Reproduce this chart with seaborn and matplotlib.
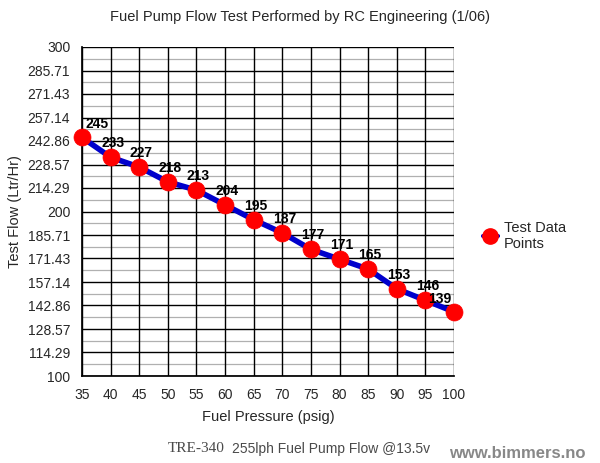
import matplotlib
matplotlib.use("Agg")
import matplotlib.pyplot as plt
import seaborn as sns
import pandas as pd
import numpy as np
from matplotlib.lines import Line2D

pressure = [35, 40, 45, 50, 55, 60, 65, 70, 75, 80, 85, 90, 95, 100]
flow = [245, 233, 227, 218, 213, 204, 195, 187, 177, 171, 165, 153, 146, 139]
y_ticks = [100, 114.29, 128.57, 142.86, 157.14, 171.43, 185.71, 200,
           214.29, 228.57, 242.86, 257.14, 271.43, 285.71, 300]
y_tick_labels = ["100", "114.29", "128.57", "142.86", "157.14", "171.43", "185.71", "200",
                 "214.29", "228.57", "242.86", "257.14", "271.43", "285.71", "300"]
x_ticks = pressure

sns.set_theme(style="white")
plt.rcParams['font.family'] = ['Liberation Sans', 'DejaVu Sans']

df = pd.DataFrame({"Fuel Pressure (psig)": pressure, "Test Flow (Ltr/Hr)": flow})

fig = plt.figure(figsize=(6.0, 4.63), dpi=100)
ax = fig.add_axes([82/600, 1 - 376/463, (454-82)/600, (376-47)/463])

minor_y = [(y_ticks[i] + y_ticks[i+1]) / 2 for i in range(len(y_ticks) - 1)]
for yv in minor_y:
    ax.axhline(yv, color="#b0b0b0", lw=0.9, zorder=0)
for yv in y_ticks:
    ax.axhline(yv, color="black", lw=1.0, zorder=0.5)
for xv in x_ticks:
    ax.axvline(xv, color="black", lw=1.0, zorder=0.5)

sns.lineplot(data=df, x="Fuel Pressure (psig)", y="Test Flow (Ltr/Hr)", ax=ax,
             color="#0000cc", lw=4, zorder=2, legend=False)
sns.scatterplot(data=df, x="Fuel Pressure (psig)", y="Test Flow (Ltr/Hr)", ax=ax,
                color="#ff0000", s=150, edgecolor="#ff0000", linewidth=0.5, zorder=3,
                legend=False)
for coll in ax.collections:
    coll.set_clip_on(False)

n = len(pressure)
for i, (xv, yv) in enumerate(zip(pressure, flow)):
    dx = 1.5
    dy = 10
    if i == 0:
        dx = 11
    elif i == n - 1:
        dx = -10
        dy = 9
    ax.annotate(str(yv), (xv, yv), xytext=(dx, dy), textcoords="offset points",
                fontsize=10, fontweight="bold", color="black", ha="center", va="center",
                zorder=4, annotation_clip=False)

ax.set_xlim(35, 100)
ax.set_ylim(100, 300)
ax.set_xticks(x_ticks)
ax.set_xticklabels([str(v) for v in x_ticks], fontsize=10)
ax.set_yticks(y_ticks)
ax.set_yticklabels(y_tick_labels, fontsize=10)
ax.tick_params(axis="both", direction="out", length=5, width=1, color="black", pad=3.5)
for s in ax.spines.values():
    s.set_visible(False)
ax.spines["left"].set_visible(True)
ax.spines["left"].set_color("black")
ax.spines["bottom"].set_visible(True)
ax.spines["bottom"].set_color("black")

ax.set_xlabel("Fuel Pressure (psig)", fontsize=10.5, labelpad=6)
ax.set_ylabel("Test Flow (Ltr/Hr)", fontsize=10.5)
ax.yaxis.set_label_coords(-(82-22)/372, 0.5)
fig.text(300/600, 1 - 17/463, "Fuel Pump Flow Test Performed by RC Engineering (1/06)",
         ha="center", va="center", fontsize=10.5)

h = Line2D([0], [0], color="#0000cc", lw=3, marker="o", markersize=11,
           markerfacecolor="#ff0000", markeredgecolor="#ff0000")
fig.legend([h], ["Test Data\nPoints"], loc="center left",
           bbox_to_anchor=(470/600, 1 - 236/463), frameon=False, fontsize=10.5,
           handlelength=1.0, handletextpad=0.4)

fig.text(168/600, 1 - 449/463, "TRE-340", fontsize=11, color="#4a4a4a",
         family=["Liberation Serif", "DejaVu Serif"], ha="left", va="center")
fig.text(232/600, 1 - 449/463, "255lph Fuel Pump Flow @13.5v", fontsize=10, color="#4a4a4a",
         ha="left", va="center")
fig.text(449/600, 1 - 454/463, "www.bimmers.no", fontsize=12, color="#888888",
         fontweight="bold", ha="left", va="center")

fig.savefig("out.png", dpi=100)
